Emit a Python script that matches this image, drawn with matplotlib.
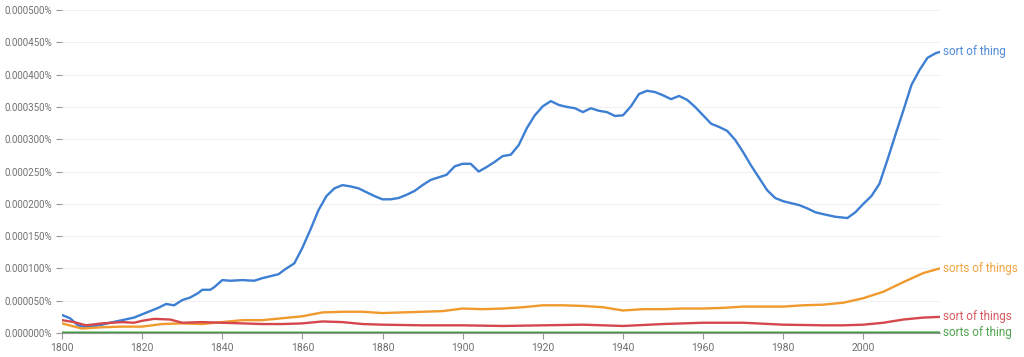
import matplotlib
matplotlib.use("Agg")
import matplotlib.pyplot as plt
from matplotlib.ticker import FuncFormatter, MultipleLocator

plt.rcParams['font.family'] = ['Roboto', 'DejaVu Sans']

# values in percent
blue_years = [1800, 1802, 1804, 1806, 1808, 1810, 1812, 1815, 1818, 1820, 1822, 1824,
              1826, 1828, 1830, 1832, 1834, 1835, 1837, 1838, 1840, 1842, 1845, 1848,
              1850, 1852, 1854, 1856, 1858, 1860, 1862, 1864, 1866, 1868, 1870, 1872,
              1874, 1876, 1878, 1880, 1882, 1884, 1886, 1888, 1890, 1892, 1894, 1896,
              1898, 1900, 1902, 1904, 1906, 1908, 1910, 1912, 1914, 1916, 1918, 1920,
              1922, 1924, 1926, 1928, 1930, 1932, 1934, 1936, 1938, 1940, 1942, 1944,
              1946, 1948, 1950, 1952, 1954, 1956, 1958, 1960, 1962, 1964, 1966, 1968,
              1970, 1972, 1974, 1976, 1978, 1980, 1982, 1984, 1986, 1988, 1990, 1993,
              1996, 1998, 2000, 2002, 2004, 2006, 2008, 2010, 2012, 2014, 2016, 2018, 2019]
sort_of_thing = [0.000028, 0.000023, 0.000012, 0.000009, 0.000011, 0.000013, 0.000016,
                 0.000020, 0.000024, 0.000029, 0.000034, 0.000039, 0.000045, 0.000043,
                 0.000051, 0.000055, 0.000062, 0.000067, 0.000067, 0.000071, 0.000082,
                 0.000081, 0.000082, 0.000081, 0.000085, 0.000088, 0.000091, 0.000100,
                 0.000108, 0.000132, 0.000160, 0.000190, 0.000212, 0.000224, 0.000229,
                 0.000227, 0.000224, 0.000218, 0.000212, 0.000207, 0.000207, 0.000209,
                 0.000214, 0.000220, 0.000229, 0.000237, 0.000241, 0.000245, 0.000258,
                 0.000262, 0.000262, 0.000250, 0.000257, 0.000265, 0.000274, 0.000276,
                 0.000291, 0.000317, 0.000337, 0.000351, 0.000359, 0.000353, 0.000350,
                 0.000348, 0.000342, 0.000348, 0.000344, 0.000342, 0.000336, 0.000337,
                 0.000351, 0.000370, 0.000375, 0.000373, 0.000368, 0.000362, 0.000367,
                 0.000361, 0.000350, 0.000337, 0.000324, 0.000319, 0.000313, 0.000299,
                 0.000280, 0.000259, 0.000240, 0.000221, 0.000209, 0.000204, 0.000201,
                 0.000198, 0.000193, 0.000187, 0.000184, 0.000180, 0.000178, 0.000187,
                 0.000200, 0.000212, 0.000231, 0.000268, 0.000307, 0.000345, 0.000384,
                 0.000407, 0.000426, 0.000433, 0.000435]

orange_years = [1800, 1805, 1810, 1815, 1820, 1825, 1830, 1835, 1840, 1845, 1850, 1855,
                1860, 1865, 1870, 1875, 1880, 1885, 1890, 1895, 1900, 1905, 1910, 1915,
                1920, 1925, 1930, 1935, 1940, 1945, 1950, 1955, 1960, 1965, 1970, 1975,
                1980, 1985, 1990, 1995, 2000, 2005, 2010, 2015, 2019]
sorts_of_things = [0.000015, 0.000007, 0.000009, 0.000010, 0.000010, 0.000014, 0.000015,
                   0.000014, 0.000017, 0.000020, 0.000020, 0.000023, 0.000026, 0.000032,
                   0.000033, 0.000033, 0.000031, 0.000032, 0.000033, 0.000034, 0.000038,
                   0.000037, 0.000038, 0.000040, 0.000043, 0.000043, 0.000042, 0.000040,
                   0.000035, 0.000037, 0.000037, 0.000038, 0.000038, 0.000039, 0.000041,
                   0.000041, 0.000041, 0.000043, 0.000044, 0.000047, 0.000054, 0.000064,
                   0.000079, 0.000093, 0.000100]

red_years = [1800, 1803, 1806, 1810, 1815, 1818, 1820, 1823, 1827, 1830, 1835, 1840, 1845,
             1850, 1855, 1860, 1865, 1870, 1875, 1880, 1890, 1900, 1910, 1920, 1930, 1940,
             1950, 1960, 1970, 1980, 1990, 1995, 2000, 2005, 2010, 2015, 2019]
sort_of_things = [0.000020, 0.000017, 0.000012, 0.000015, 0.000017, 0.000016, 0.000019,
                  0.000022, 0.000021, 0.000016, 0.000017, 0.000016, 0.000015, 0.000014,
                  0.000014, 0.000015, 0.000018, 0.000017, 0.000014, 0.000013, 0.000012,
                  0.000012, 0.000011, 0.000012, 0.000013, 0.000011, 0.000014, 0.000016,
                  0.000016, 0.000013, 0.000012, 0.000012, 0.000013, 0.000016, 0.000021,
                  0.000024, 0.000025]

green_years = [1800, 1850, 1900, 1950, 2000, 2019]
sorts_of_thing = [0.0000006, 0.0000005, 0.0000005, 0.0000005, 0.0000006, 0.0000007]

series = [
    ('sort of thing', blue_years, sort_of_thing, '#3c7fd3'),
    ('sorts of things', orange_years, sorts_of_things, '#f09a2e'),
    ('sort of things', red_years, sort_of_things, '#d3474d'),
    ('sorts of thing', green_years, sorts_of_thing, '#3c9a3c'),
]

fig = plt.figure(figsize=(10.24, 3.57), dpi=100)
ax = fig.add_axes([0.0605, 0.067, 0.857, 0.905])

for name, xs, ys, color in series:
    ax.plot(xs, ys, color=color, linewidth=1.7, solid_capstyle='round')
    ax.text(xs[-1] + 0.9, ys[-1], name, color=color, fontsize=8.5, alpha=0.9,
            va='center', ha='left', clip_on=False)

ax.set_xlim(1800, 2019)
ax.set_ylim(0, 0.0005)
ax.xaxis.set_major_locator(MultipleLocator(20))
ax.yaxis.set_major_locator(MultipleLocator(0.00005))
ax.yaxis.set_major_formatter(FuncFormatter(lambda v, p: f'{v:.6f}%'))

ax.grid(axis='y', color='#f0f0f0', linewidth=0.8)
ax.set_axisbelow(True)
for side in ['top', 'right', 'left']:
    ax.spines[side].set_visible(False)
ax.spines['bottom'].set_color('#999999')
ax.tick_params(axis='y', length=4, color='#999999', labelcolor='#707070', labelsize=7, pad=3)
ax.tick_params(axis='x', length=4, color='#999999', labelcolor='#707070', labelsize=7.5)

fig.savefig('out.png', dpi=100, facecolor='white')
